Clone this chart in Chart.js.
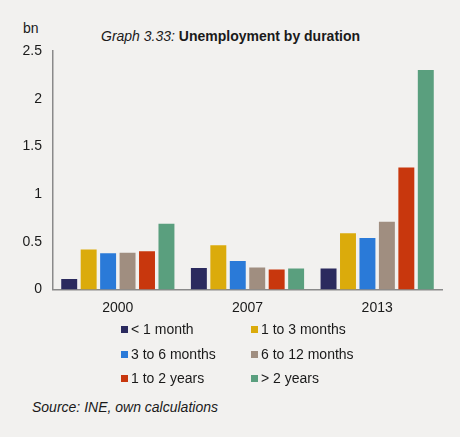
<!DOCTYPE html>
<html>
<head>
<meta charset="utf-8">
<script src="https://cdn.jsdelivr.net/npm/chart.js@4"></script>
<style>
  body { margin: 0; background: #f2f1ef; font-family: "Liberation Sans", Arial, sans-serif; color: #1a1a1a; }
  #wrap { position: relative; width: 460px; height: 437px; }
  #box { position: absolute; left: 0; top: 0; width: 460px; height: 330px; }
  .title { position: absolute; top: 28px; left: 101px; font-size: 14px; white-space: nowrap; }
  .unit { position: absolute; top: 20px; left: 23px; font-size: 14px; }
  #legend { position: absolute; top: 321px; left: 121px; font-size: 14px; }
  .item { position: absolute; white-space: nowrap; }
  .item i { display: inline-block; width: 7px; height: 7px; margin-right: 3px; vertical-align: 1px; }
  .source { position: absolute; top: 399px; left: 32px; font-size: 14px; font-style: italic; }
</style>
</head>
<body>
<div id="wrap">
  <div class="unit">bn</div>
  <div class="title"><i>Graph 3.33:</i> <b>Unemployment by duration</b></div>
  <div id="box"><canvas id="barChart"></canvas></div>
  <div id="legend"></div>
  <div class="source">Source: INE, own calculations</div>
</div>
<script>
// years on the x axis
var years = ['2000', '2007', '2013'];
// durations (series names)
var durations = ['< 1 month', '1 to 3 months', '3 to 6 months', '6 to 12 months', '1 to 2 years', '> 2 years'];
// values in bn, one array per duration
var lessMonth   = [0.11, 0.225, 0.22];
var oneToThree  = [0.42, 0.465, 0.59];
var threeToSix  = [0.38, 0.30, 0.54];
var sixToTwelve = [0.385, 0.23, 0.71];
var oneToTwoYr  = [0.40, 0.21, 1.28];
var overTwoYr   = [0.69, 0.22, 2.30];
var colors = ['#2b2a5e', '#dbab0b', '#2a7ad8', '#a08e80', '#c8370d', '#5a9f7e'];

var series = [lessMonth, oneToThree, threeToSix, sixToTwelve, oneToTwoYr, overTwoYr];

var ctx = document.getElementById('barChart');
var myBarChart = new Chart(ctx, {
  type: 'bar',
  data: {
    labels: years,
    datasets: series.map(function (vals, i) {
      return {
        label: durations[i],
        data: vals,
        backgroundColor: colors[i],
        barPercentage: 0.82,
        categoryPercentage: 0.9
      };
    })
  },
  options: {
    responsive: true,
    maintainAspectRatio: false,
    animation: false,
    layout: { padding: { top: 51, right: 18, left: 0, bottom: 0 } },
    plugins: {
      legend: { display: false },
      tooltip: { enabled: false }
    },
    scales: {
      x: {
        grid: { display: false },
        border: { color: '#8a8a8a', width: 1.5 },
        ticks: { color: '#1a1a1a', padding: 2, font: { family: 'Liberation Sans', size: 14 } },
        afterFit: function (s) { s.height = 40.5; }
      },
      y: {
        min: 0,
        max: 2.5,
        ticks: {
          stepSize: 0.5, color: '#1a1a1a', padding: 11,
          font: { family: 'Liberation Sans', size: 14 },
          callback: function (v) { return String(v); }
        },
        grid: { display: false, drawTicks: false },
        border: { color: '#8a8a8a', width: 1.5 },
        afterFit: function (s) { s.width = 53; }
      }
    }
  }
});

// legend in two columns, like the original
var leg = document.getElementById('legend');
durations.forEach(function (name, i) {
  var d = document.createElement('div');
  d.className = 'item';
  d.style.left = (i % 2 ? 130 : 0) + 'px';
  d.style.top = (Math.floor(i / 2) * 24.5) + 'px';
  d.innerHTML = '<i style="background:' + colors[i] + '"></i>';
  d.appendChild(document.createTextNode(name));
  leg.appendChild(d);
});
</script>
</body>
</html>
